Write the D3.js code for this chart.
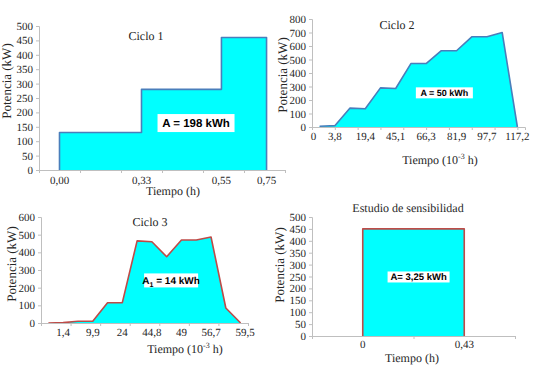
<!DOCTYPE html>
<html>
<head>
<meta charset="utf-8">
<script src="https://cdn.jsdelivr.net/npm/d3@7"></script>
<style>
  body { margin: 0; background: #fff; }
  svg { font-family: 'Liberation Serif', 'Times New Roman', serif; text-rendering: geometricPrecision; }
</style>
</head>
<body>
<script>
// --- Data ---
// Ciclo 1: step profile, positions in axis units
const c1Labels = ["0,00", "0,33", "0,55", "0,75"];
const c1Pos = [0.5, 2.5, 4.45, 5.55];
const c1Power = [130, 280, 460];

// Ciclo 2: 14 points on a category axis
const c2Index = [1, 2, 3, 4, 5, 6, 7, 8, 9, 10, 11, 12, 13, 14];
const c2Power = [5, 10, 140, 135, 290, 285, 470, 470, 565, 565, 668, 668, 700, 0];
const c2Labels = ["0", "3,8", "19,4", "45,1", "66,3", "81,9", "97,7", "117,2"];
const c2LabelPos = [0.6, 2, 4, 6, 8, 10, 12, 14];

// Ciclo 3
const c3Index = [1, 2, 3, 4, 5, 6, 7, 8, 9, 10, 11, 12, 13, 14];
const c3Power = [0, 2, 10, 10, 115, 115, 465, 460, 375, 470, 470, 487, 85, 0];
const c3Labels = ["1,4", "9,9", "24", "44,8", "49", "56,7", "59,5"];
const c3LabelPos = [2, 4, 6, 8, 10, 12, 14.3];

// Estudio de sensibilidad
const c4Labels = ["0", "0,43"];
const c4Pos = [0.5, 1.5];
const c4Power = [450, 450];

const SERIF = "'Liberation Serif', 'Times New Roman', serif";
const SANS = "'Liberation Sans', Arial, sans-serif";
const CYAN = "#00ffff";
const BLUE = "#4a7ebb";
const RED = "#be4b48";
const AXIS = "#bfbfbf";
const INK = "#262626";

const svg = d3.select("body").append("svg")
  .attr("width", 539).attr("height", 369);

function drawPanel(o) {
  const g = svg.append("g").attr("font-family", SERIF);
  const x = d3.scaleLinear().domain(o.xDomain).range(o.xRange);
  const y = d3.scaleLinear().domain(o.yDomain).range(o.yRange);

  // filled area + outline
  const area = d3.area().x((d) => x(d[0])).y0(y(0)).y1((d) => y(d[1])).curve(o.curve);
  const line = d3.line().x((d) => x(d[0])).y((d) => y(d[1])).curve(o.curve);
  g.append("path").datum(o.points).attr("d", area).attr("fill", CYAN);
  g.append("path").datum(o.points).attr("d", line)
    .attr("fill", "none").attr("stroke", o.stroke).attr("stroke-width", 1.6)
    .attr("stroke-linejoin", "round");

  // y axis
  const ya = g.append("g").attr("transform", `translate(${o.xRange[0]},0)`)
    .call(d3.axisLeft(y).tickValues(d3.range(o.yDomain[0], o.yDomain[1] + 1, o.yStep))
      .tickSize(3).tickPadding(3));
  // x axis
  const xa = g.append("g").attr("transform", `translate(0,${y(0)})`)
    .call(d3.axisBottom(x).tickValues(o.xTicks).tickSize(3).tickFormat(""));
  for (const ax of [ya, xa]) {
    ax.attr("font-family", SERIF);
    ax.select(".domain").attr("stroke", AXIS);
    ax.selectAll("line").attr("stroke", AXIS);
    ax.selectAll("text").attr("fill", INK).style("font-family", SERIF).style("font-size", "11px");
  }

  // category labels on x
  g.selectAll(".xl").data(o.xLabels).join("text")
    .attr("class", "xl")
    .attr("x", (d, i) => x(o.xLabelPos[i]))
    .attr("y", y(0) + o.xLabelDy)
    .attr("text-anchor", "middle")
    .attr("fill", INK)
    .style("font-family", SERIF).style("font-size", "11px")
    .text((d) => d);

  // title
  g.append("text").attr("x", o.title[1]).attr("y", o.title[2])
    .attr("text-anchor", "middle").attr("fill", INK)
    .style("font-family", SERIF).style("font-size", "12px")
    .text(o.title[0]);

  // y title
  g.append("text")
    .attr("transform", `translate(${o.yTitle[0]},${o.yTitle[1]}) rotate(-90)`)
    .attr("text-anchor", "middle").attr("fill", INK)
    .style("font-family", SERIF).style("font-weight", "400").style("font-size", "13px")
    .text("Potencia (kW)");

  // x title
  const xt = g.append("text").attr("x", o.xTitle[0]).attr("y", o.xTitle[1])
    .attr("text-anchor", "middle").attr("fill", INK)
    .style("font-family", SERIF).style("font-size", "12px");
  if (o.xTitleSup) {
    xt.append("tspan").text("Tiempo (10");
    xt.append("tspan").attr("dy", -5).style("font-size", "8px").text("-3");
    xt.append("tspan").attr("dy", 5).text(" h)");
  } else {
    xt.text("Tiempo  (h)");
  }

  // annotation box
  const a = o.note;
  const cx = x(a.at[0]), cy = y(a.at[1]);
  g.append("rect")
    .attr("x", cx - a.w / 2).attr("y", cy - a.h / 2)
    .attr("width", a.w).attr("height", a.h).attr("fill", "#fff");
  const nt = g.append("text").attr("x", cx).attr("y", cy + a.size * 0.36)
    .attr("text-anchor", "middle").attr("fill", "#000")
    .style("font-family", SANS).style("font-weight", "700").style("font-size", a.size + "px");
  if (a.sub) {
    nt.append("tspan").text("A");
    nt.append("tspan").attr("dy", 3).style("font-size", (a.size - 3) + "px").text(a.sub);
    nt.append("tspan").attr("dy", -3).text(a.text);
  } else {
    nt.text(a.text);
  }
}

// --- Ciclo 1 ---
const c1Points = [[c1Pos[0], 0]]
  .concat(c1Pos.map((p, i) => [p, c1Power[Math.min(i, c1Power.length - 1)]]))
  .concat([[c1Pos[c1Pos.length - 1], 0]]);
drawPanel({
  xDomain: [0, 6], xRange: [39, 285], yDomain: [0, 500], yRange: [170, 26], yStep: 50,
  xTicks: d3.range(0, 7), points: c1Points, curve: d3.curveStepAfter, stroke: BLUE,
  xLabels: c1Labels, xLabelPos: c1Pos, xLabelDy: 14,
  title: ["Ciclo 1", 146, 40], yTitle: [11, 81], xTitle: [173, 195],
  note: { text: "A  = 198 kWh", at: [3.83, 163], w: 77, h: 18, size: 11.5 }
});

// --- Ciclo 2 ---
drawPanel({
  xDomain: [0.5, 14.5], xRange: [312, 525], yDomain: [0, 800], yRange: [127, 19], yStep: 100,
  xTicks: d3.range(0.5, 14.6, 1.5), points: c2Index.map((d, i) => [d, c2Power[i]]),
  curve: d3.curveLinear, stroke: BLUE,
  xLabels: c2Labels, xLabelPos: c2LabelPos, xLabelDy: 13,
  title: ["Ciclo 2", 397, 29], yTitle: [287, 75], xTitle: [440, 164], xTitleSup: true,
  note: { text: "A = 50 kWh", at: [9.2, 253], w: 57, h: 11, size: 9 }
});

// --- Ciclo 3 ---
drawPanel({
  xDomain: [0.5, 14.5], xRange: [41, 248], yDomain: [0, 600], yRange: [323, 217], yStep: 100,
  xTicks: d3.range(0.5, 14.6, 2), points: c3Index.map((d, i) => [d, c3Power[i]]),
  curve: d3.curveLinear, stroke: RED,
  xLabels: c3Labels, xLabelPos: c3LabelPos, xLabelDy: 13,
  title: ["Ciclo 3", 150, 226], yTitle: [16, 264], xTitle: [185, 353], xTitleSup: true,
  note: { text: " = 14 kWh", sub: "1", at: [9.3, 241], w: 54, h: 14, size: 10 }
});

// --- Estudio de sensibilidad ---
const c4Points = [[c4Pos[0], 0]]
  .concat(c4Pos.map((p, i) => [p, c4Power[i]]))
  .concat([[c4Pos[c4Pos.length - 1], 0]]);
drawPanel({
  xDomain: [0, 2], xRange: [312, 515], yDomain: [0, 500], yRange: [336, 217], yStep: 50,
  xTicks: [0, 1, 2], points: c4Points, curve: d3.curveLinear, stroke: RED,
  xLabels: c4Labels, xLabelPos: c4Pos, xLabelDy: 12,
  title: ["Estudio de sensibilidad", 408, 212], yTitle: [284, 265], xTitle: [412, 362],
  note: { text: "A= 3,25 kWh", at: [1.05, 248], w: 62, h: 11, size: 9.5 }
});
</script>
</body>
</html>
